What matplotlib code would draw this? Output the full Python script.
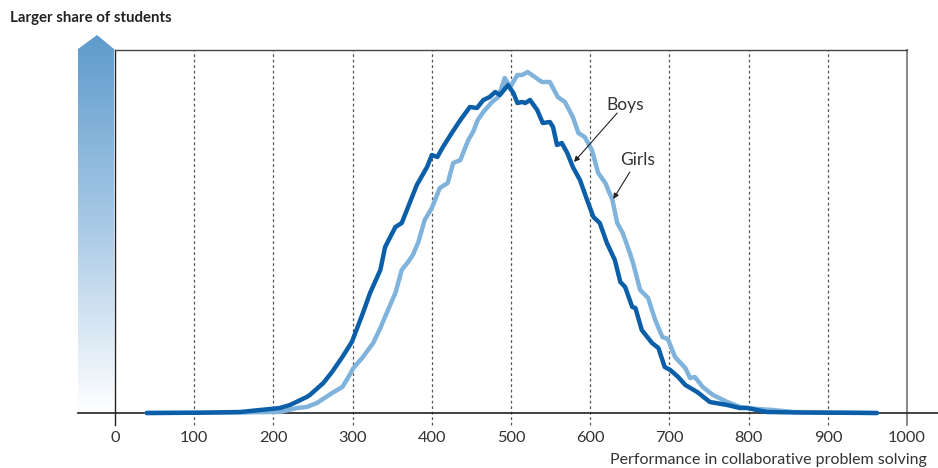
import numpy as np
import matplotlib
matplotlib.use("Agg")
import matplotlib.pyplot as plt
from matplotlib.patches import Polygon
from matplotlib.colors import LinearSegmentedColormap

plt.rcParams['font.family'] = ['Lato', 'DejaVu Sans']

# Distribution of performance (relative share of students, arbitrary units)
boys_score = [40, 107, 158, 183, 196, 208, 221, 242, 246, 263, 274, 287, 299, 313, 322, 335, 341,
              354, 362, 372, 381, 394, 400, 407, 414, 426, 436, 448, 457, 465, 473, 480, 486,
              496, 503, 508, 514, 518, 524, 533, 540, 549, 553, 558, 564, 571, 578, 587, 596,
              604, 612, 621, 631, 638, 644, 653, 657, 665, 678, 686, 694, 701, 711, 720, 735,
              751, 773, 789, 798, 823, 865, 962]
boys_share = [0, 0.3, 1, 3, 4, 5, 8, 16, 18, 30, 41, 56, 71, 100, 120, 143, 166,
              186, 190, 210, 228, 246, 258, 256, 266, 281, 293, 306, 305, 313, 316, 321, 318,
              328, 320, 310, 311, 310, 313, 303, 290, 291, 286, 268, 270, 260, 246, 233, 213,
              196, 190, 170, 153, 131, 126, 106, 105, 83, 70, 65, 46, 43, 36, 28, 21,
              11, 8, 5, 5, 1, 0.5, 0]

girls_score = [40, 158, 196, 208, 230, 242, 255, 274, 287, 294, 301, 312, 326, 335, 343, 354,
               362, 370, 376, 383, 391, 400, 410, 420, 427, 436, 446, 452, 458, 465, 476, 484,
               492, 499, 508, 514, 521, 530, 539, 549, 559, 568, 578, 585, 593, 602, 610, 619,
               628, 634, 641, 650, 654, 663, 673, 682, 691, 698, 707, 720, 726, 732, 742, 755,
               773, 789, 811, 831, 856, 962]
girls_share = [0, 0.5, 1, 1, 5, 6, 10, 20, 26, 35, 45, 55, 70, 85, 100, 120,
               143, 151, 158, 171, 193, 205, 225, 230, 250, 253, 273, 281, 293, 301, 311, 316,
               335, 326, 338, 338, 341, 336, 331, 331, 316, 311, 296, 280, 276, 263, 240, 230,
               213, 190, 180, 160, 150, 123, 115, 93, 76, 74, 56, 45, 35, 36, 26, 18,
               11, 6, 4, 3, 1, 0]

xticks = [0, 100, 200, 300, 400, 500, 600, 700, 800, 900, 1000]

boys_color = '#0b5ea8'
girls_color = '#80b3dc'
ytop = 363      # top of the frame
yarrow = 378    # tip of the gradient arrow

fig = plt.figure(figsize=(9.38, 4.68), dpi=100)
# axes reaches up to the arrow tip, frame is drawn by hand
ax = fig.add_axes([78 / 938, 55 / 468, 860 / 938, 378 / 468])
ax.set_xlim(-46.7, 1039)
ax.set_ylim(0, yarrow)
for s in ax.spines.values():
    s.set_visible(False)
ax.set_yticks([])
ax.set_xticks(xticks)
ax.set_xticklabels([str(t) for t in xticks], fontsize=11.8, color='#333333')
ax.tick_params(axis='x', length=0, pad=13)

# gridlines and frame
for t in xticks[1:-1]:
    ax.plot([t, t], [-12, ytop], ls=(0, (2.2, 2.2)), color='#555555', lw=0.9, clip_on=False, zorder=1)
ax.plot([0, 0], [-12, ytop], color='#222222', lw=1.0, clip_on=False, zorder=2)
ax.plot([1000, 1000], [-12, ytop], color='#888888', lw=1.4, clip_on=False, zorder=2)
ax.plot([0, 1000], [ytop, ytop], color='#444444', lw=1.0, clip_on=False, zorder=2)
ax.plot([-46.7, 1039], [0, 0], color='#222222', lw=1.2, clip_on=False, zorder=2)

# gradient arrow on the left
cmap = LinearSegmentedColormap.from_list('grad', ['#ffffff', '#a8c9e6', '#5e9bcc'])
grad = np.linspace(0, 1, 256).reshape(-1, 1)
im = ax.imshow(grad, extent=[-46.7, -1.3, 0, yarrow], origin='lower', aspect='auto',
               cmap=cmap, zorder=0)
arrow = Polygon([(-46.7, 0), (-46.7, 364), (-22.7, yarrow), (-1.3, 364), (-1.3, 0)],
                closed=True, transform=ax.transData)
im.set_clip_path(arrow)

# curves
ax.plot(girls_score, girls_share, color=girls_color, lw=3.2, zorder=3,
        solid_joinstyle='round', solid_capstyle='round', clip_on=False)
ax.plot(boys_score, boys_share, color=boys_color, lw=3.2, zorder=4,
        solid_joinstyle='round', solid_capstyle='round', clip_on=False)

# annotations
arrowprops = dict(arrowstyle='-|>', color='#222222', lw=0.8, mutation_scale=8, shrinkA=0, shrinkB=0)
ax.annotate('', xy=(579.5, 251), xytext=(634, 300), arrowprops=arrowprops)
ax.annotate('', xy=(629, 214), xytext=(650, 241), arrowprops=arrowprops)
ax.text(644, 308, 'Boys', fontsize=12.5, color='#333333', ha='center', va='center')
ax.text(660, 253, 'Girls', fontsize=12.5, color='#333333', ha='center', va='center')

fig.text(10 / 938, 1 - 18 / 468, 'Larger share of students', fontsize=10.8, fontweight='bold',
         color='#222222', ha='left', va='center')
fig.text(927 / 938, 1 - 460 / 468, 'Performance in collaborative problem solving',
         fontsize=11.5, color='#333333', ha='right', va='center')

fig.savefig('out.png', dpi=100)
